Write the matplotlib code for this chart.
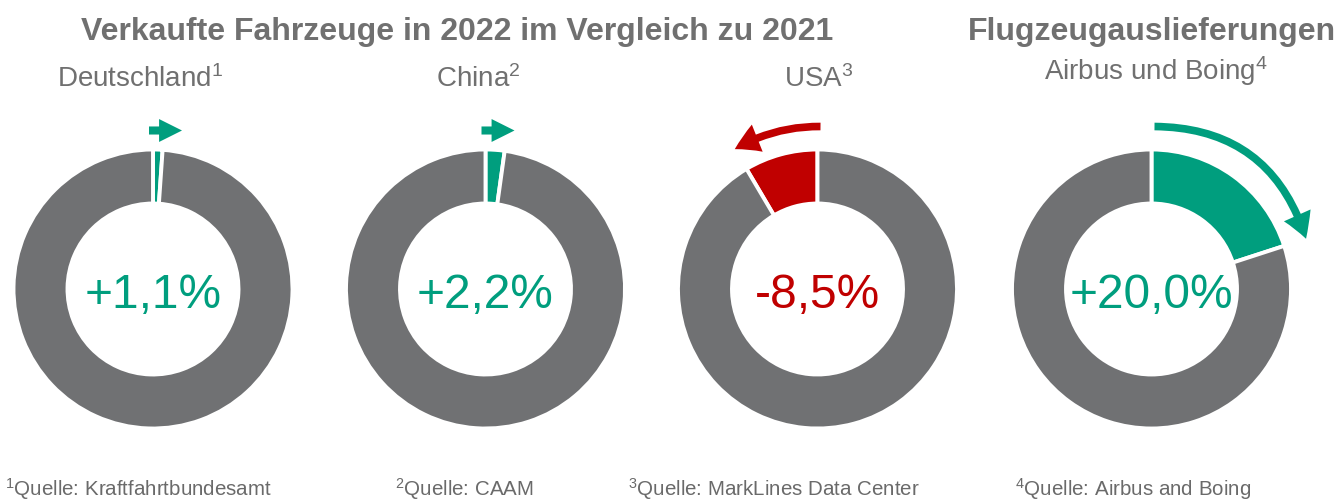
import matplotlib
matplotlib.use("Agg")
import matplotlib.pyplot as plt
from matplotlib.patches import FancyArrowPatch
import numpy as np

plt.rcParams['font.family'] = ['Liberation Sans', 'DejaVu Sans']
plt.rcParams['mathtext.fontset'] = 'custom'
plt.rcParams['mathtext.rm'] = 'Liberation Sans'
plt.rcParams['mathtext.it'] = 'Liberation Sans'

# data
labels = ["Deutschland$^{1}$", "China$^{2}$", "USA$^{3}$", "Airbus und Boing$^{4}$"]
changes = [1.1, 2.2, -8.5, 20.0]
value_texts = ["+1,1%", "+2,2%", "-8,5%", "+20,0%"]
sources = ["$^{1}$Quelle: Kraftfahrtbundesamt", "$^{2}$Quelle: CAAM",
           "$^{3}$Quelle: MarkLines Data Center", "$^{4}$Quelle: Airbus and Boing"]
group_titles = ["Verkaufte Fahrzeuge in 2022 im Vergleich zu 2021", "Flugzeugauslieferungen"]

GREY = "#707173"
GREEN = "#009E7E"
RED = "#C00000"
TEXT = "#707070"

W, H = 1340, 501
fig = plt.figure(figsize=(W / 100, H / 100), dpi=100)
ax = fig.add_axes([0, 0, 1, 1])

centers_x = [153, 485.5, 817.5, 1151.5]
label_x = [140, 478, 819, 1156]
label_y = [87, 87, 87, 80]
cy = H - 289
R = 139.5
ring = 54

for i, (cx, ch) in enumerate(zip(centers_x, changes)):
    col = GREEN if ch > 0 else RED
    ax.pie([abs(ch), 100 - abs(ch)], colors=[col, GREY], startangle=90,
           counterclock=ch < 0, radius=R, center=(cx, cy),
           wedgeprops=dict(width=ring, edgecolor="white", linewidth=2.8))
    ax.text(cx, cy - 7, value_texts[i], ha="center", va="center",
            fontsize=34.5, color=col)

    # arrows showing the change
    if abs(ch) < 5:
        ya = cy + R + 19
        ax.add_patch(FancyArrowPatch((cx - 4, ya), (cx + 29, ya),
                     arrowstyle="simple,head_length=16.5,head_width=16.5,tail_width=5.8",
                     mutation_scale=1, color=col, shrinkA=0, shrinkB=0, lw=0))
    else:
        r = R + 23
        th = np.deg2rad(abs(ch) * 3.6)
        sgn = 1 if ch > 0 else -1
        p0 = (cx + 3, cy + r)
        p1 = (cx + sgn * r * np.sin(th), cy + r * np.cos(th))
        rad = -sgn * np.tan(th / 2) / 2
        ax.add_patch(FancyArrowPatch(p0, p1, connectionstyle=f"arc3,rad={rad}",
                     arrowstyle="simple,head_length=18,head_width=21,tail_width=5.5",
                     mutation_scale=1, color=col, shrinkA=0, shrinkB=0, lw=0))

    ax.text(label_x[i], H - label_y[i], labels[i], ha="center", va="baseline",
            fontsize=20, color=TEXT)

ax.text(457, H - 40, group_titles[0], ha="center", va="baseline",
        fontsize=23, fontweight="bold", color=TEXT)
ax.text(1152, H - 40, group_titles[1], ha="center", va="baseline",
        fontsize=23, fontweight="bold", color=TEXT)

foot_x = [5, 395, 628, 1015]
for x, s in zip(foot_x, sources):
    ax.text(x, H - 496, s, ha="left", va="baseline", fontsize=14.8, color="#6a6a6a")

ax.set_xlim(0, W)
ax.set_ylim(0, H)
ax.set_aspect("equal")
ax.axis("off")

fig.savefig("out.png", dpi=100)
